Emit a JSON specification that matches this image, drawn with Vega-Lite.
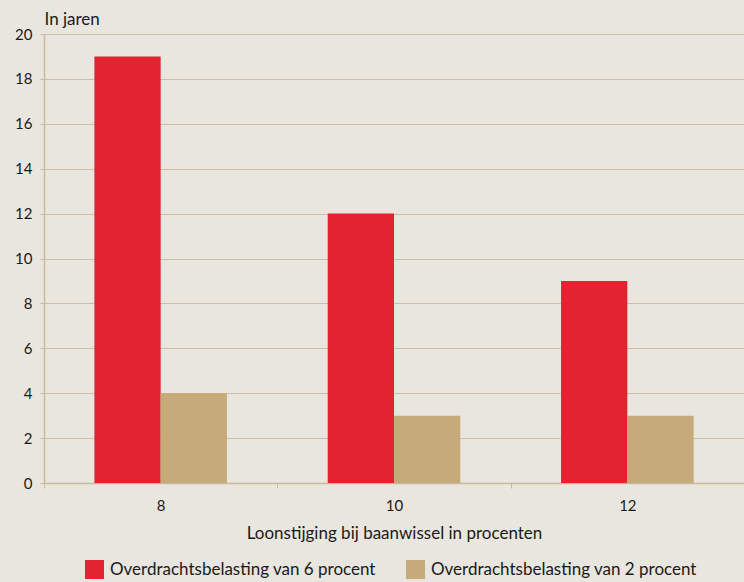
{
  "$schema": "https://vega.github.io/schema/vega-lite/v6.json",
  "width": 700,
  "height": 449,
  "autosize": {"type": "none"},
  "padding": {"left": 44, "top": 34, "right": 0, "bottom": 99},
  "background": "#e8e6df",
  "config": {
    "font": "Lato",
    "view": {"stroke": null},
    "axis": {"labelFont": "Lato", "titleFont": "Lato", "labelColor": "#1a1a1a", "titleColor": "#1a1a1a"}
  },
  "data": {
    "values": [
      {"loon": "8", "serie": "Overdrachtsbelasting van 6 procent", "jaren": 19},
      {"loon": "8", "serie": "Overdrachtsbelasting van 2 procent", "jaren": 4},
      {"loon": "10", "serie": "Overdrachtsbelasting van 6 procent", "jaren": 12},
      {"loon": "10", "serie": "Overdrachtsbelasting van 2 procent", "jaren": 3},
      {"loon": "12", "serie": "Overdrachtsbelasting van 6 procent", "jaren": 9},
      {"loon": "12", "serie": "Overdrachtsbelasting van 2 procent", "jaren": 3}
    ]
  },
  "mark": {"type": "bar"},
  "encoding": {
    "x": {
      "field": "loon",
      "type": "nominal",
      "sort": ["8", "10", "12"],
      "scale": {"paddingInner": 0, "paddingOuter": 0},
      "axis": {
        "title": "Loonstijging bij baanwissel in procenten",
        "titleFontSize": 17,
        "titleFontWeight": "normal",
        "titlePadding": 12,
        "labelAngle": 0,
        "labelFontSize": 15,
        "labelPadding": 10,
        "tickBand": "extent",
        "tickColor": "#c9b998",
        "tickSize": 5,
        "domainColor": "#c9b998",
        "domainWidth": 1.5,
        "grid": false
      }
    },
    "xOffset": {
      "field": "serie",
      "type": "nominal",
      "sort": ["Overdrachtsbelasting van 6 procent", "Overdrachtsbelasting van 2 procent"],
      "scale": {"paddingInner": 0, "paddingOuter": 0.76}
    },
    "y": {
      "field": "jaren",
      "type": "quantitative",
      "scale": {"domain": [0, 20]},
      "axis": {
        "title": "In jaren",
        "titleAngle": 0,
        "titleAlign": "left",
        "titleBaseline": "alphabetic",
        "titleX": 0,
        "titleY": -10,
        "titleFontSize": 17,
        "titleFontWeight": "normal",
        "values": [0, 2, 4, 6, 8, 10, 12, 14, 16, 18, 20],
        "labelFontSize": 15,
        "labelPadding": 8,
        "tickColor": "#c9b998",
        "tickSize": 4,
        "domainColor": "#c9b998",
        "domainWidth": 1.5,
        "gridColor": "#cdbf9f",
        "gridWidth": 1
      }
    },
    "color": {
      "field": "serie",
      "type": "nominal",
      "sort": ["Overdrachtsbelasting van 6 procent", "Overdrachtsbelasting van 2 procent"],
      "scale": {"range": ["#e32232", "#c7aa79"]},
      "legend": {
        "title": null,
        "orient": "none",
        "legendX": 41,
        "legendY": 526,
        "direction": "horizontal",
        "symbolType": "square",
        "symbolSize": 361,
        "symbolStrokeWidth": 0,
        "symbolOffset": 0,
        "labelOffset": 6,
        "labelFontSize": 17,
        "labelColor": "#1a1a1a",
        "labelFont": "Lato",
        "columnPadding": 30,
        "labelLimit": 400,
        "padding": 0
      }
    }
  }
}
